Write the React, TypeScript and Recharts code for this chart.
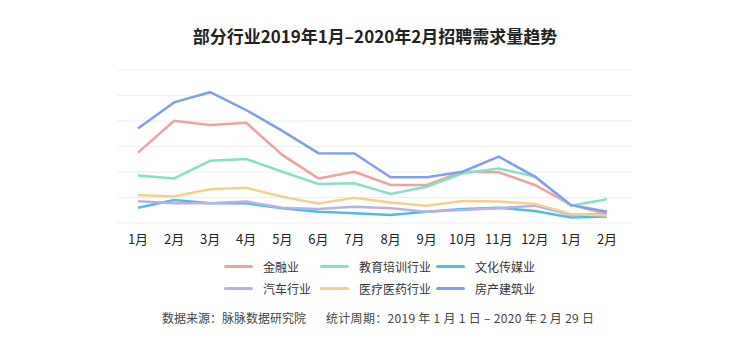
import { CartesianGrid, Line, LineChart, XAxis, YAxis } from "recharts";

const months = ["1月", "2月", "3月", "4月", "5月", "6月", "7月", "8月", "9月", "10月", "11月", "12月", "1月", "2月"];
const finance = [2.76, 4.01, 3.84, 3.93, 2.67, 1.75, 2.01, 1.49, 1.49, 2.01, 1.99, 1.49, 0.71, 0.35];
const education = [1.86, 1.75, 2.44, 2.51, 2.01, 1.53, 1.56, 1.14, 1.42, 1.95, 2.14, 1.82, 0.68, 0.93];
const media = [0.6, 0.9, 0.77, 0.77, 0.58, 0.44, 0.38, 0.31, 0.44, 0.55, 0.6, 0.47, 0.22, 0.25];
const auto = [0.85, 0.77, 0.77, 0.84, 0.6, 0.55, 0.64, 0.58, 0.44, 0.51, 0.58, 0.68, 0.31, 0.35];
const medical = [1.1, 1.04, 1.32, 1.38, 1.03, 0.77, 0.99, 0.8, 0.68, 0.86, 0.84, 0.75, 0.35, 0.29];
const realty = [3.71, 4.73, 5.13, 4.43, 3.61, 2.74, 2.73, 1.79, 1.79, 2.01, 2.6, 1.82, 0.71, 0.44];
const yTicks = [0, 1, 2, 3, 4, 5, 6];

const series = [
  { key: "finance", name: "金融业", color: "#f2a09e", values: finance },
  { key: "education", name: "教育培训行业", color: "#84e2c4", values: education },
  { key: "media", name: "文化传媒业", color: "#4cbde6", values: media },
  { key: "auto", name: "汽车行业", color: "#b6b1e8", values: auto },
  { key: "medical", name: "医疗医药行业", color: "#f5cf8e", values: medical },
  { key: "realty", name: "房产建筑业", color: "#7fa0e8", values: realty },
];

const data = months.map((m, i) => {
  const row: Record<string, string | number> = { month: m, idx: i };
  series.forEach((s) => (row[s.key] = s.values[i]));
  return row;
});

const font = "'PingFang SC', 'Noto Sans CJK SC', sans-serif";

export default function App() {
  return (
    <div style={{ position: "fixed", left: 0, top: 0, width: 750, height: 351, background: "#fff", fontFamily: font }}>
      <div style={{ position: "absolute", top: 23, width: 750, textAlign: "center", fontSize: 17, fontWeight: 700, color: "#222" }}>
        部分行业2019年1月–2020年2月招聘需求量趋势
      </div>
      <div style={{ position: "absolute", top: 0, left: 0 }}>
        <LineChart width={750} height={255} data={data} margin={{ top: 70, right: 118, left: 117, bottom: 0 }}>
          <CartesianGrid vertical={false} stroke="#eeeeee" />
          <XAxis
            dataKey="idx"
            tickFormatter={(v) => months[v]}
            axisLine={false}
            tickLine={false}
            height={32}
            tickMargin={6}
            padding={{ left: 21, right: 25 }}
            interval={0}
            tick={{ fontSize: 13, fill: "#222", fontFamily: font }}
          />
          <YAxis hide domain={[0, 6]} ticks={yTicks} />
          {series.map((s) => (
            <Line
              key={s.key}
              type="linear"
              dataKey={s.key}
              name={s.name}
              stroke={s.color}
              strokeWidth={2.5}
              dot={false}
              isAnimationActive={false}
            />
          ))}
        </LineChart>
      </div>
      <div
        style={{
          position: "absolute",
          top: 258,
          left: 224,
          display: "grid",
          gridTemplateColumns: "96px 116px auto",
          rowGap: 5,
          fontSize: 12,
          color: "#333",
        }}
      >
        {series.map((s) => (
          <div key={s.key} style={{ display: "flex", alignItems: "center", height: 17 }}>
            <span style={{ display: "inline-block", width: 29, height: 3, background: s.color, borderRadius: 2, marginRight: 10 }} />
            <span>{s.name}</span>
          </div>
        ))}
      </div>
      <div style={{ position: "absolute", top: 309, left: 162, fontSize: 12, color: "#444", whiteSpace: "pre" }}>
        数据来源：脉脉数据研究院
      </div>
      <div style={{ position: "absolute", top: 309, left: 326, fontSize: 12, color: "#444", whiteSpace: "pre", letterSpacing: 0.3 }}>
        统计周期：2019 年 1 月 1 日 – 2020 年 2 月 29 日
      </div>
    </div>
  );
}
